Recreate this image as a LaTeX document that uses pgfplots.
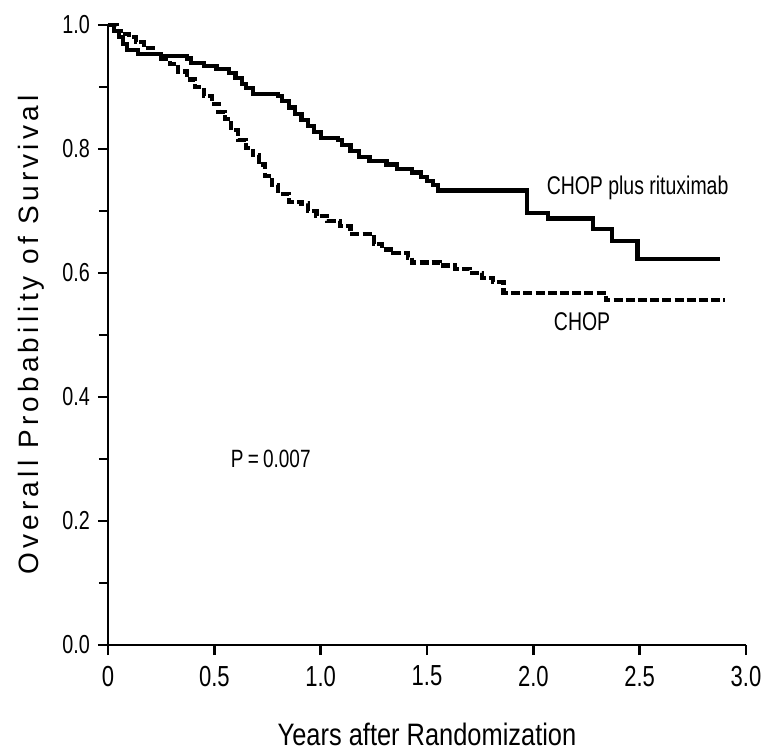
\documentclass[border=0pt]{standalone}
\usepackage{pgfplots}
\pgfplotsset{compat=1.18}
\usepackage{fontspec}
\setmainfont{Liberation Sans}
\newfontfamily\cond{Liberation Sans}[FakeStretch=0.76]
\newfontfamily\condlab{Liberation Sans}[FakeStretch=0.82]
\newfontfamily\spaced{Liberation Sans}[LetterSpace=15]

% Kaplan-Meier estimates (time in years, survival probability)
\pgfplotstableread{
t     s
0.00  1.000
0.03  0.990
0.05  0.980
0.07  0.969
0.09  0.960
0.14  0.953
0.25  0.950
0.37  0.946
0.39  0.939
0.45  0.934
0.51  0.929
0.57  0.922
0.60  0.914
0.63  0.905
0.65  0.898
0.68  0.889
0.80  0.885
0.82  0.877
0.85  0.867
0.88  0.857
0.91  0.847
0.94  0.837
0.97  0.827
1.00  0.818
1.08  0.815
1.10  0.806
1.14  0.797
1.18  0.787
1.23  0.781
1.31  0.775
1.36  0.768
1.43  0.762
1.47  0.755
1.50  0.749
1.53  0.742
1.55  0.733
1.97  0.697
2.07  0.688
2.28  0.671
2.37  0.652
2.49  0.623
2.88  0.623
}\rchop

\pgfplotstableread{
t     s
0.00  1.000
0.04  0.990
0.06  0.985
0.10  0.980
0.13  0.972
0.17  0.963
0.21  0.953
0.25  0.945
0.29  0.937
0.33  0.925
0.37  0.912
0.41  0.900
0.45  0.886
0.49  0.873
0.52  0.860
0.55  0.848
0.58  0.830
0.61  0.815
0.65  0.802
0.68  0.790
0.71  0.775
0.74  0.757
0.77  0.742
0.80  0.728
0.85  0.715
0.91  0.712
0.94  0.700
0.98  0.692
1.03  0.684
1.09  0.676
1.14  0.663
1.25  0.647
1.29  0.638
1.34  0.632
1.41  0.625
1.43  0.617
1.56  0.612
1.63  0.607
1.70  0.600
1.76  0.592
1.81  0.585
1.86  0.568
2.34  0.556
2.90  0.556
}\chop

\begin{document}
\begin{tikzpicture}
\begin{axis}[
  scale only axis,
  width=319bp, height=310bp,
  xmin=0, xmax=3, ymin=0, ymax=1,
  axis lines=left,
  axis line style={-, line width=1.2bp},
  tick style={line width=1.2bp, black},
  tick align=outside,
  major tick length=5bp,
  minor tick length=4.5bp,
  xtick={0,0.5,1,1.5,2,2.5,3},
  xticklabels={0,0.5,1.0,1.5,2.0,2.5,3.0},
  ytick={0,0.2,0.4,0.6,0.8,1.0},
  yticklabels={0.0,0.2,0.4,0.6,0.8,1.0},
  minor ytick={0.1,0.3,0.5,0.7,0.9},
  xticklabel style={font=\cond\fontsize{14.5bp}{17bp}\selectfont, yshift=-2bp},
  yticklabel style={font=\cond\fontsize{13bp}{15bp}\selectfont, xshift=-0.5bp},
  xlabel={Years after Randomization},
  xlabel style={font=\condlab\fontsize{15.5bp}{18bp}\selectfont,
    at={(axis description cs:0.5,-0.162)}, anchor=base},
  ylabel={Overall Probability of Survival},
  ylabel style={font=\spaced\fontsize{14bp}{16bp}\selectfont,
    at={(axis description cs:-0.1097,0.5)}, anchor=base},
  clip=false,
]
\addplot[const plot, black, line width=2.1bp] table[x=t, y=s] {\rchop};
\addplot[const plot, black, line width=2.1bp, dash pattern=on 4.5bp off 1.6bp] table[x=t, y=s] {\chop};

\node[anchor=base west, font=\cond\fontsize{12.8bp}{15bp}\selectfont]
  at (axis cs:2.03,0.726) {CHOP plus rituximab};
\node[anchor=base west, font=\cond\fontsize{12.8bp}{15bp}\selectfont]
  at (axis cs:2.064,0.508) {CHOP};
\node[anchor=base west, font=\cond\fontsize{12.5bp}{14bp}\selectfont]
  at (axis cs:0.545,0.287) {P\,=\,0.007};
\end{axis}
\pgfresetboundingbox
\path[use as bounding box]
  ([xshift=-54bp,yshift=-55bp]current axis.south west)
  rectangle ([xshift=12.5bp,yshift=12.5bp]current axis.north east);
\end{tikzpicture}
\end{document}
